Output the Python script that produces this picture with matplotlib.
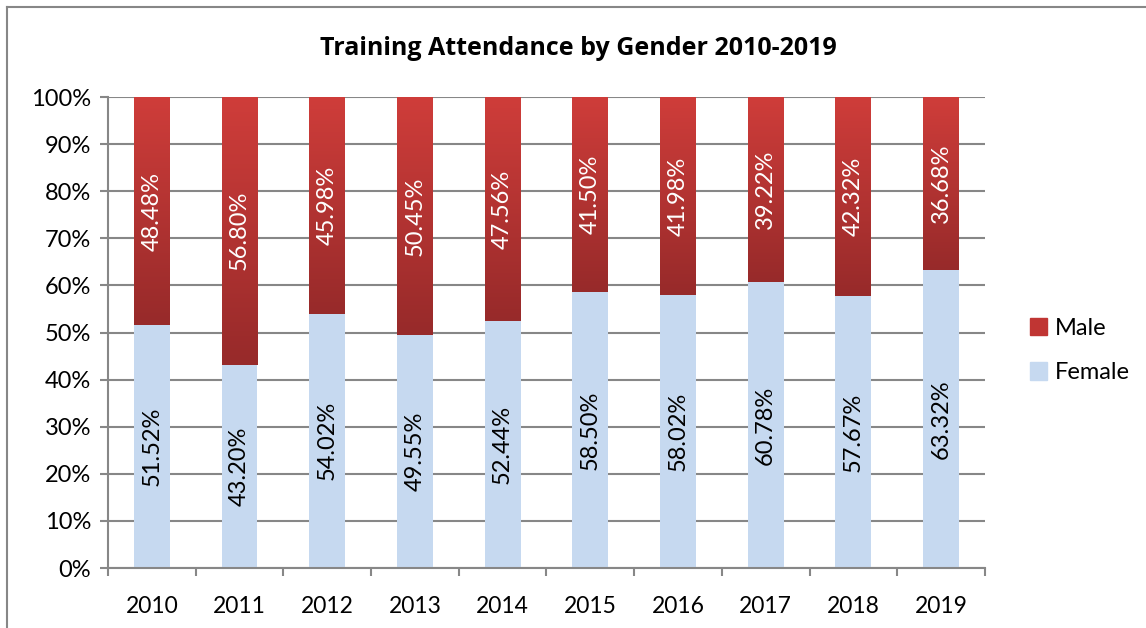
import numpy as np
import matplotlib
matplotlib.use("Agg")
from matplotlib import pyplot as plt
from matplotlib.patches import Patch
from matplotlib.colors import LinearSegmentedColormap
from matplotlib.lines import Line2D

# data
years = ["2010", "2011", "2012", "2013", "2014", "2015", "2016", "2017", "2018", "2019"]
female = [51.52, 43.20, 54.02, 49.55, 52.44, 58.50, 58.02, 60.78, 57.67, 63.32]
male = [48.48, 56.80, 45.98, 50.45, 47.56, 41.50, 41.98, 39.22, 42.32, 36.68]

plt.rcParams["font.family"] = ["Lato", "DejaVu Sans"]

fig = plt.figure(figsize=(11.46, 6.28), dpi=100)
ax = fig.add_axes([0.0942, 0.0955, 0.7653, 0.75])

x = np.arange(len(years))
w = 0.41
grey = "#878787"

ax.bar(x, female, w, color="#c6d9f0", zorder=2)
male_bars = ax.bar(x, male, w, bottom=female, color="none", zorder=2)

# red gradient on male segments (lighter on top)
red_cmap = LinearSegmentedColormap.from_list("red", ["#972a2a", "#cf3d3a"])
grad = np.linspace(0, 1, 256).reshape(-1, 1)
for b in male_bars:
    x0, y0 = b.get_x(), b.get_y()
    im = ax.imshow(grad, cmap=red_cmap, origin="lower", aspect="auto",
                   extent=[x0, x0 + b.get_width(), y0, y0 + b.get_height()], zorder=2)
    im.set_clip_path(b)

# value labels
for i in range(len(years)):
    ax.text(x[i], female[i] / 2, "%.2f%%" % female[i], rotation=90, color="black",
            ha="center", va="center", fontsize=17, zorder=3)
    ax.text(x[i], female[i] + male[i] / 2, "%.2f%%" % male[i], rotation=90, color="white",
            ha="center", va="center", fontsize=17, zorder=3)

ax.set_xlim(-0.5, len(years) - 0.5)
ax.set_ylim(0, 100)
ax.set_yticks(np.arange(0, 101, 10))
ax.set_yticklabels(["%d%%" % v for v in range(0, 101, 10)], fontsize=17)
ax.set_xticks(x)
ax.set_xticklabels(years, fontsize=16.5)
ax.set_xticks(np.arange(-0.5, len(years)), minor=True)
ax.tick_params(axis="x", which="major", length=0, pad=20)
ax.tick_params(axis="x", which="minor", length=6, color=grey, width=1.5)
ax.tick_params(axis="y", length=6, color=grey, width=1.5, pad=6)
ax.grid(axis="y", color=grey, lw=1.5, zorder=0)
ax.set_axisbelow(True)
for s in ["top", "right"]:
    ax.spines[s].set_visible(False)
for s in ["left", "bottom"]:
    ax.spines[s].set_color(grey)
    ax.spines[s].set_linewidth(1.5)

fig.text(0.505, 0.923, "Training Attendance by Gender 2010-2019", ha="center", va="center",
         fontsize=18, fontweight="bold", family="Open Sans")

handles = [Patch(color="#c03533", label="Male"), Patch(color="#c6d9f0", label="Female")]
fig.legend(handles=handles, loc="center left", bbox_to_anchor=(0.880, 0.442), frameon=False,
           fontsize=17, handlelength=0.75, handleheight=0.75, handletextpad=0.3, labelspacing=1.0)

# outer border
fig.add_artist(Line2D([7 / 1146, 1.0], [1 - 7 / 628, 1 - 7 / 628], color=grey, lw=1.5))
fig.add_artist(Line2D([7 / 1146, 7 / 1146], [0, 1 - 7 / 628], color=grey, lw=1.5))

fig.savefig("out.png", dpi=100)
